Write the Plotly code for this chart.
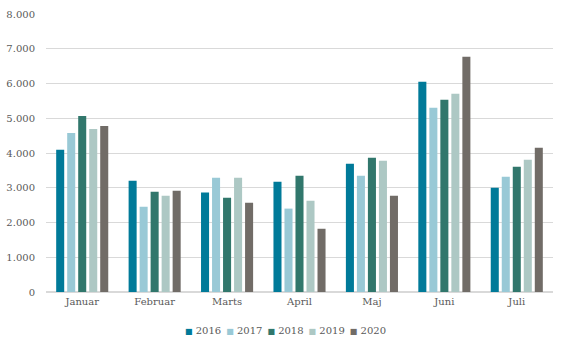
import plotly.graph_objects as go

months = ["Januar", "Februar", "Marts", "April", "Maj", "Juni", "Juli"]
years = ["2016", "2017", "2018", "2019", "2020"]
v2016 = [4090, 3200, 2860, 3175, 3690, 6050, 3000]
v2017 = [4575, 2455, 3290, 2400, 3345, 5305, 3320]
v2018 = [5065, 2885, 2715, 3345, 3865, 5535, 3605]
v2019 = [4690, 2770, 3290, 2625, 3780, 5705, 3805]
v2020 = [4780, 2915, 2570, 1820, 2770, 6770, 4150]
colors = ["#007A99", "#99C9D6", "#31776C", "#ADC8C4", "#716C67"]

series = [v2016, v2017, v2018, v2019, v2020]

FAM = "DejaVu Serif"
FS = 10

fig = go.Figure()
for name, vals, col in zip(years, series, colors):
    fig.add_trace(go.Bar(x=months, y=vals, name=name, marker_color=col,
                         marker_line_width=0))

legend_text = "\u2002".join(
    f'<span style="color:{c};font-size:8px">■</span> {y}' for y, c in zip(years, colors)
)
fig.add_annotation(text=legend_text, xref="paper", yref="paper", x=0.473, y=-0.137,
                   xanchor="center", yanchor="middle", showarrow=False,
                   font=dict(family=FAM, size=FS, color="#595959"))

fig.update_layout(
    width=567, height=351,
    margin=dict(l=46, r=14, t=14, b=59, autoexpand=False),
    paper_bgcolor="white", plot_bgcolor="white",
    font=dict(family=FAM, size=FS, color="#595959"),
    separators=",.",
    bargap=0.24, bargroupgap=0.27,
    showlegend=False,
    xaxis=dict(showgrid=False, showline=True, linecolor="#d9d9d9", linewidth=1,
               ticks="", tickfont=dict(family=FAM, size=FS)),
    yaxis=dict(range=[0, 8000], dtick=1000, tickformat=",.0f", showgrid=True,
               gridcolor="#d9d9d9", gridwidth=1, zeroline=True, zerolinecolor="#d9d9d9",
               showline=False, ticks="", ticklabelstandoff=10,
               tickfont=dict(family=FAM, size=FS)),
)

fig.write_html("out.html")
